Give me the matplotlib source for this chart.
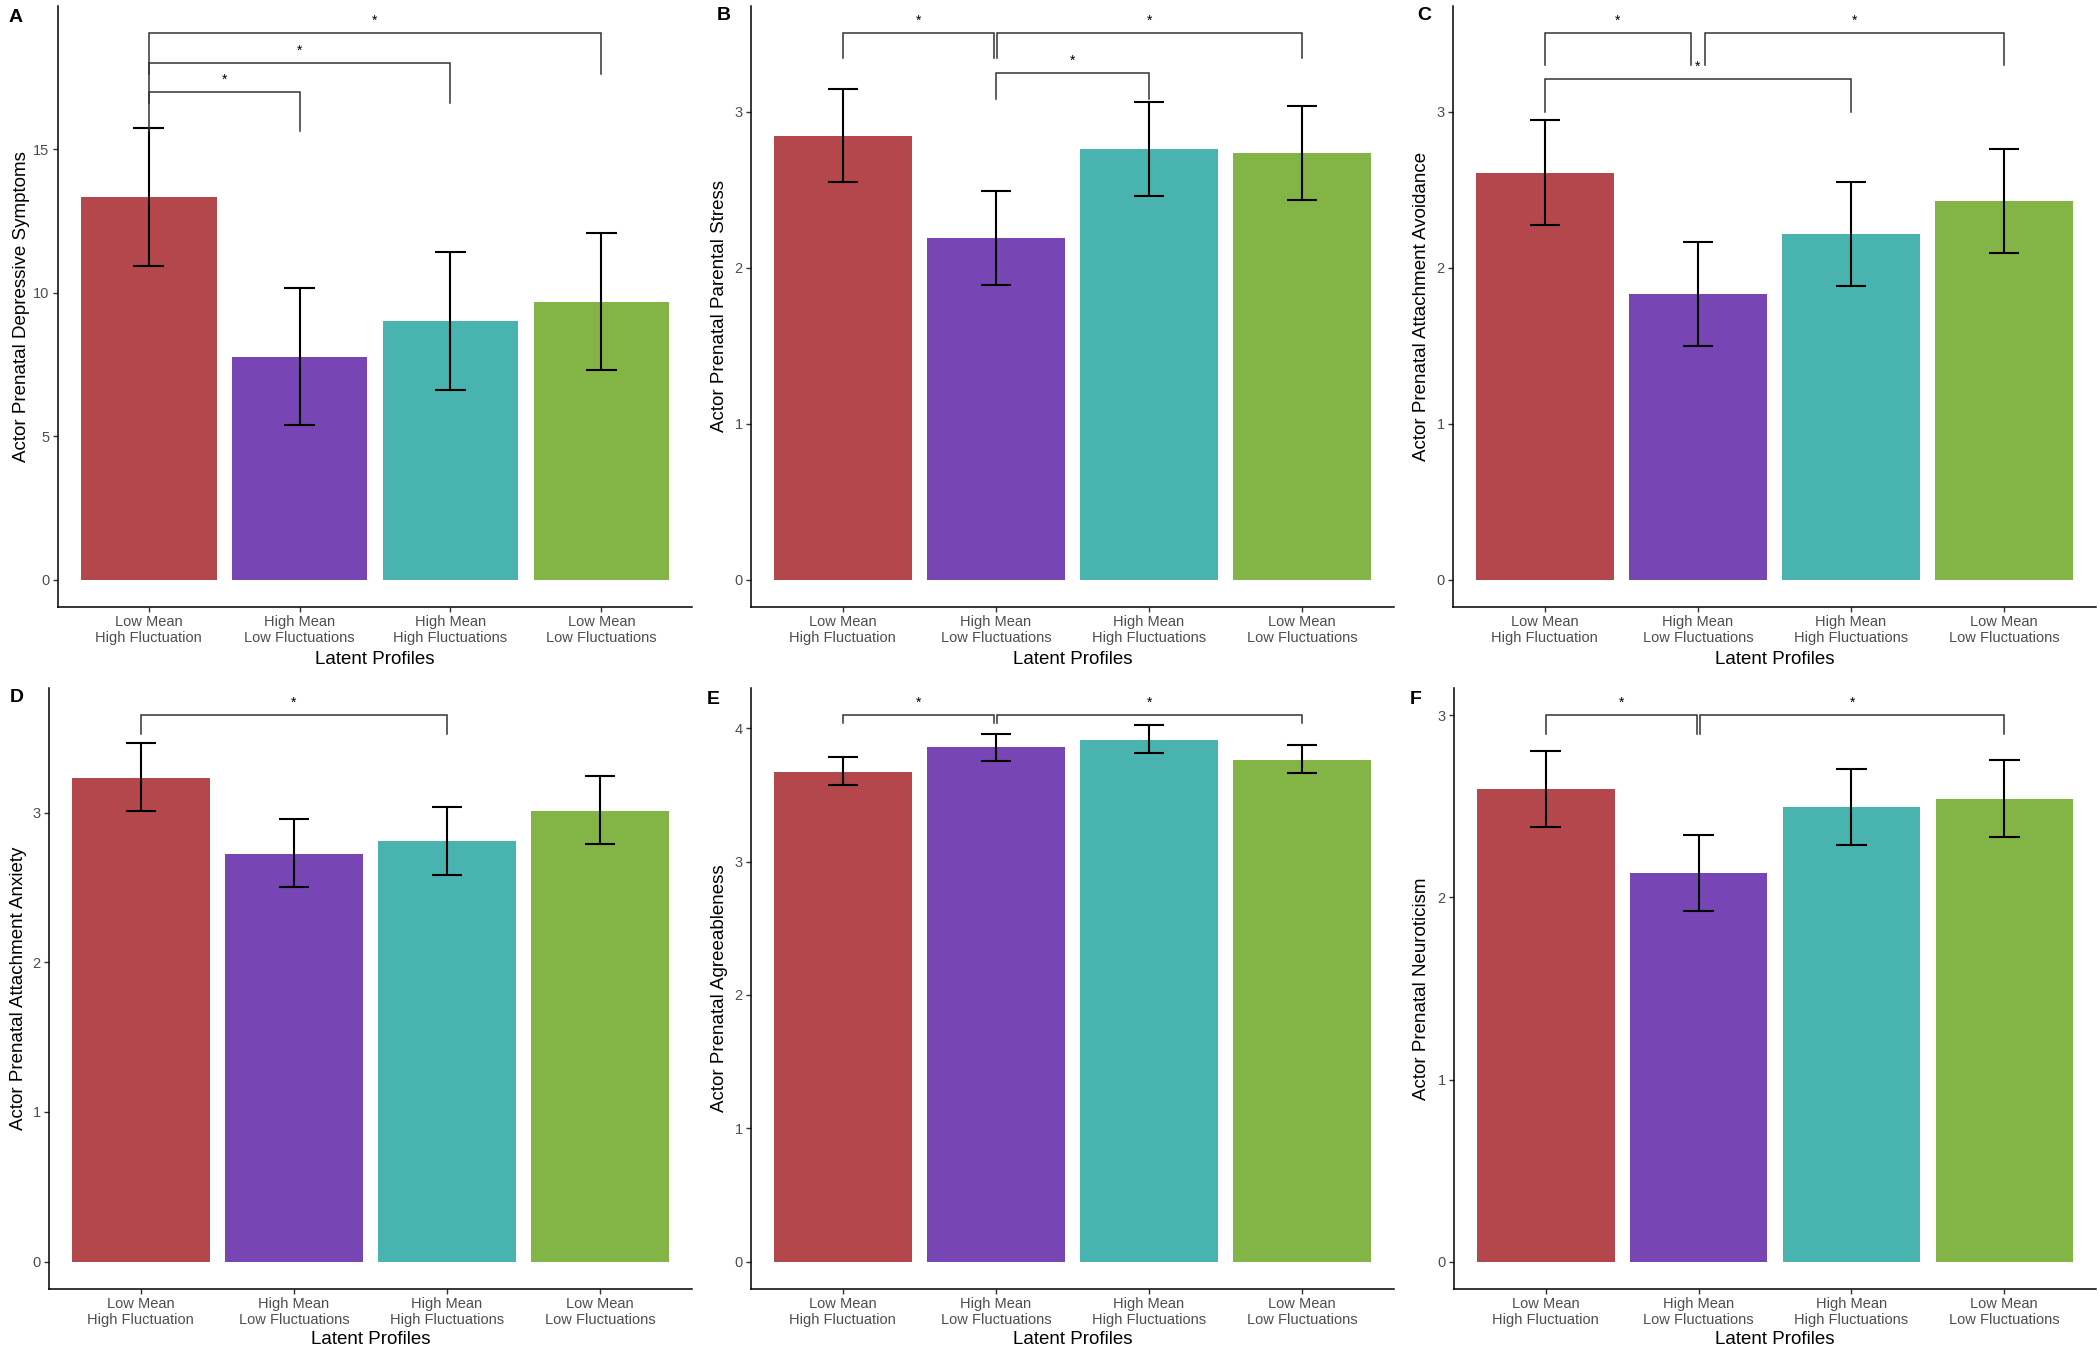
import matplotlib
matplotlib.use("Agg")
import matplotlib.pyplot as plt

plt.rcParams['font.family'] = ['Liberation Sans', 'DejaVu Sans']

# ---------------- data ----------------
categories = ["Low Mean\nHigh Fluctuation", "High Mean\nLow Fluctuations",
              "High Mean\nHigh Fluctuations", "Low Mean\nLow Fluctuations"]
bar_colors = ["#B4474B", "#7846B4", "#48B3AF", "#82B446"]
x_title = "Latent Profiles"

panel_letters = ["A", "B", "C", "D", "E", "F"]
y_titles = ["Actor Prenatal Depressive Symptoms", "Actor Prenatal Parental Stress",
            "Actor Prenatal Attachment Avoidance", "Actor Prenatal Attachment Anxiety",
            "Actor Prenatal Agreeableness", "Actor Prenatal Neuroticism"]

means_A = [13.33, 7.75, 9.00, 9.68]
lower_A = [10.93, 5.38, 6.62, 7.30]
upper_A = [15.72, 10.17, 11.42, 12.07]

means_B = [2.847, 2.19, 2.76, 2.736]
lower_B = [2.549, 1.89, 2.463, 2.433]
upper_B = [3.147, 2.49, 3.064, 3.036]

means_C = [2.608, 1.832, 2.219, 2.427]
lower_C = [2.277, 1.501, 1.885, 2.096]
upper_C = [2.947, 2.168, 2.552, 2.761]

means_D = [3.233, 2.726, 2.811, 3.014]
lower_D = [3.008, 2.50, 2.586, 2.79]
upper_D = [3.464, 2.957, 3.04, 3.245]

means_E = [3.674, 3.856, 3.914, 3.764]
lower_E = [3.571, 3.751, 3.815, 3.664]
upper_E = [3.783, 3.959, 4.026, 3.872]

means_F = [2.594, 2.132, 2.494, 2.54]
lower_F = [2.386, 1.926, 2.287, 2.334]
upper_F = [2.803, 2.343, 2.705, 2.752]

# significance brackets: (start group, end group, height, tip length)
brackets_A = [(1, 2, 16.98, 1.34), (1, 3, 18.0, 1.38), (1, 4, 19.03, 1.43)]
brackets_B = [(1, 1.99, 3.503, 0.161), (2.01, 4, 3.503, 0.161), (2, 3, 3.25, 0.167)]
brackets_C = [(1, 1.955, 3.503, 0.203), (2.045, 4, 3.503, 0.203), (1, 3, 3.208, 0.208)]
brackets_D = [(1, 3, 3.65, 0.123)]
brackets_E = [(1, 1.99, 4.097, 0.057), (2.01, 4, 4.097, 0.057)]
brackets_F = [(1, 1.988, 3.0, 0.105), (2.012, 4, 3.0, 0.105)]

yticks_A = [0, 5, 10, 15]
yticks_B = [0, 1, 2, 3]
yticks_C = [0, 1, 2, 3]
yticks_D = [0, 1, 2, 3]
yticks_E = [0, 1, 2, 3, 4]
yticks_F = [0, 1, 2, 3]

panels = [
    (means_A, lower_A, upper_A, brackets_A, yticks_A),
    (means_B, lower_B, upper_B, brackets_B, yticks_B),
    (means_C, lower_C, upper_C, brackets_C, yticks_C),
    (means_D, lower_D, upper_D, brackets_D, yticks_D),
    (means_E, lower_E, upper_E, brackets_E, yticks_E),
    (means_F, lower_F, upper_F, brackets_F, yticks_F),
]

# ---------------- layout (pixels) ----------------
W, H = 2100, 1349
fig = plt.figure(figsize=(W / 100, H / 100), dpi=100)
fig.patch.set_facecolor("white")

boxes = [  # left, right, top, bottom
    (58, 692, 6, 607), (751, 1394, 6, 607), (1453, 2096, 6, 607),
    (49, 692, 688, 1289), (751, 1394, 688, 1289), (1454, 2096, 688, 1289),
]
letter_pos = [(9, 17), (717, 16), (1417, 16), (10, 698), (707, 699), (1410, 699)]
ylab_x = [22, 719, 1422, 19, 720, 1422]
xlab_y = [660, 1340]

TXT_GRAY = "#4D4D4D"

for i, (means, lower, upper, brackets, yticks) in enumerate(panels):
    l, r, t, b = boxes[i]
    ax = fig.add_axes([l / W, 1 - b / H, (r - l) / W, (b - t) / H])
    xs = [1, 2, 3, 4]
    ax.bar(xs, means, width=0.9, color=bar_colors, edgecolor="none", zorder=2)
    ax.vlines(xs, lower, upper, color="black", linewidth=1.5, zorder=3)
    ax.hlines(lower, [x - 0.1 for x in xs], [x + 0.1 for x in xs], color="black", linewidth=1.5, zorder=3)
    ax.hlines(upper, [x - 0.1 for x in xs], [x + 0.1 for x in xs], color="black", linewidth=1.5, zorder=3)

    for (x1, x2, yb, tip) in brackets:
        ax.plot([x1, x1, x2, x2], [yb - tip, yb, yb, yb - tip], color="#333333",
                linewidth=1.1, solid_joinstyle="miter", zorder=4)
        ax.annotate("*", xy=((x1 + x2) / 2, yb), xytext=(0, 5.8), textcoords="offset points",
                    ha="center", va="baseline", fontsize=10, color="black")

    ymax = max(bk[2] for bk in brackets)
    ax.set_ylim(-0.05 * ymax, ymax * 1.05)
    ax.set_xlim(0.4, 4.6)
    ax.set_yticks(yticks)
    ax.set_yticklabels([str(v) for v in yticks])
    ax.set_xticks(xs)
    ax.set_xticklabels(categories, linespacing=1.1)
    for s in ["top", "right"]:
        ax.spines[s].set_visible(False)
    for s in ["left", "bottom"]:
        ax.spines[s].set_linewidth(1.1)
        ax.spines[s].set_color("black")
    ax.tick_params(axis="both", length=3.6, width=1.0, color="#333333",
                   labelcolor=TXT_GRAY, labelsize=10.5, pad=2.5)
    ax.set_facecolor("white")

    fig.text(ylab_x[i] / W, 1 - ((t + b) / 2) / H, y_titles[i], rotation=90,
             ha="center", va="center", fontsize=13.5, color="black")
    fig.text(((l + r) / 2) / W, 1 - xlab_y[i // 3] / H, x_title,
             ha="center", va="center", fontsize=13.5, color="black")
    fig.text(letter_pos[i][0] / W, 1 - letter_pos[i][1] / H, panel_letters[i],
             ha="left", va="center", fontsize=14, fontweight="bold", color="black")

fig.savefig("out.png", dpi=100, facecolor="white")
